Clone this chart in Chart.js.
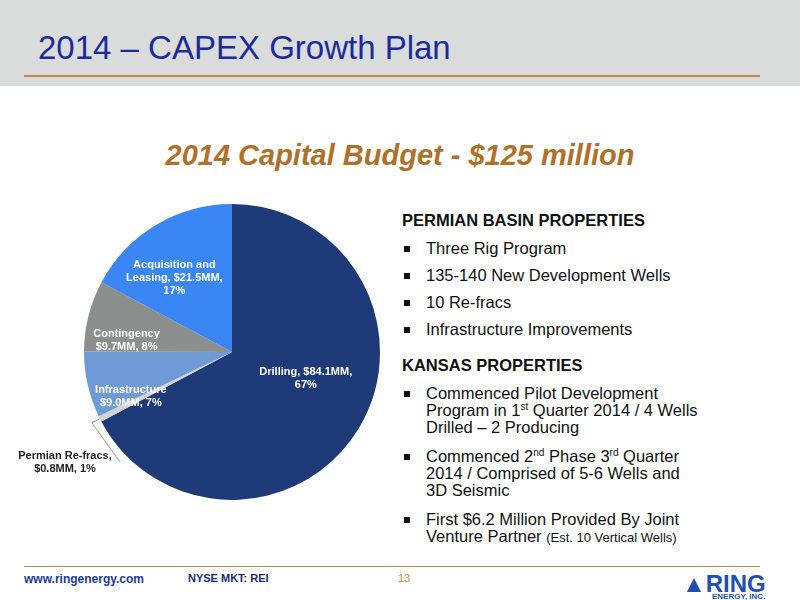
<!DOCTYPE html>
<html><head><meta charset="utf-8">
<script src="https://cdn.jsdelivr.net/npm/chart.js@4"></script>
<style>
body{margin:0;width:800px;height:600px;position:relative;background:#fff;font-family:Arial,"Liberation Sans",sans-serif;overflow:hidden}
#hdr{position:absolute;left:0;top:0;width:800px;height:86px;background:#d9dcdb}
#title{position:absolute;left:38px;top:29px;font-size:33px;color:#1c2a9c}
#hl{position:absolute;left:24px;top:75px;width:736px;height:2px;background:#c08a4a}
#sub{position:absolute;left:0;width:800px;top:139px;text-align:center;font-size:29px;font-weight:bold;font-style:italic;color:#b0702a}
#c{position:absolute;left:0;top:190px}
#txt{position:absolute;left:402px;top:211px;width:312px;color:#111;font-size:16.5px}
h3{margin:0 0 10px 0;font-size:16.5px;font-weight:bold}
ul{margin:0 0 18px 0;padding:0;list-style:none}
li{position:relative;padding-left:24px;margin-bottom:10px;line-height:17px}
ul.k li{margin-bottom:12px}
li:before{content:"";position:absolute;left:2px;top:6px;width:6px;height:6px;background:#111}
#fl{position:absolute;left:24px;top:566px;width:736px;height:1px;background:#c08a4a}
.ft{position:absolute;top:572px;font-size:12px;font-weight:bold;color:#1c3aa0}
#logo{position:absolute;left:682px;top:570px;color:#1f4fb5;font-weight:bold;font-size:24px}
#logo small{display:block;font-size:8px;margin-top:-6px;margin-left:30px}
</style></head><body>
<div id="hdr"></div><div id="title">2014 – CAPEX Growth Plan</div><div id="hl"></div>
<div id="sub">2014 Capital Budget - $125 million</div>
<canvas id="c" width="400" height="330" style="width:400px;height:330px"></canvas>
<div id="txt">
<h3>PERMIAN BASIN PROPERTIES</h3>
<ul><li>Three Rig Program</li><li>135-140 New Development Wells</li><li>10 Re-fracs</li><li>Infrastructure Improvements</li></ul>
<h3>KANSAS PROPERTIES</h3>
<ul class="k"><li>Commenced Pilot Development Program in 1<sup style="font-size:10px;line-height:0">st</sup> Quarter 2014 / 4&nbsp;Wells Drilled – 2 Producing</li>
<li>Commenced 2<sup style="font-size:10px;line-height:0">nd</sup> Phase 3<sup style="font-size:10px;line-height:0">rd</sup> Quarter 2014 / Comprised of 5-6 Wells and 3D&nbsp;Seismic</li>
<li>First $6.2 Million Provided By Joint Venture Partner <span style="font-size:13px">(Est. 10 Vertical Wells)</span></li></ul>
</div>
<div id="fl"></div>
<div class="ft" style="left:24px">www.ringenergy.com</div>
<div class="ft" style="left:188px;color:#1c2a70;font-size:11px">NYSE MKT: REI</div>
<div class="ft" style="left:398px;color:#c08a4a;font-weight:normal;font-size:11px">13</div>
<div id="logo">&#9650;RING<small>ENERGY, INC.</small></div>
<script>
const categories=["Drilling","Permian Re-fracs","Infrastructure","Contingency","Acquisition and Leasing"];
const values=[84.1,0.8,9.0,9.7,21.5];
const colors=["#1f3a78","#d3d4d4","#6f9ad6","#8d8e8e","#3a86f5"];
const labels=[
 ["Drilling, $84.1MM,","67%"],
 ["Permian Re-fracs,","$0.8MM, 1%"],
 ["Infrastructure","$9.0MM, 7%"],
 ["Contingency","$9.7MM, 8%"],
 ["Acquisition and","Leasing, $21.5MM,","17%"]];
const radF=[0.55,1.2,0.68,0.7,0.6];
const offX=[4,0,-3,-5,-12],offY=[-15,0,22,14,2];
const lbl={id:'lbl',afterDatasetsDraw(ch){
 const ctx=ch.ctx;const arcs=ch.getDatasetMeta(0).data;
 ctx.save();ctx.font="bold 11px Arial";ctx.textAlign="center";ctx.textBaseline="middle";
 arcs.forEach((a,i)=>{
  const m=(a.startAngle+a.endAngle)/2;let r=a.outerRadius*radF[i];
  let x=a.x+Math.cos(m)*r+offX[i],y=a.y+Math.sin(m)*r+offY[i];
  if(i===1){
   const ex=a.x+Math.cos(m)*a.outerRadius,ey=a.y+Math.sin(m)*a.outerRadius;
   x=65;y=272;
   ctx.strokeStyle="#999";ctx.lineWidth=1;ctx.beginPath();ctx.moveTo(ex,ey);ctx.lineTo(ex-8,ey+4);ctx.lineTo(x+55,y);ctx.stroke();
   ctx.fillStyle="#222";
  } else ctx.fillStyle="#fff";
  const L=labels[i];L.forEach((t,k)=>ctx.fillText(t,x,y+(k-(L.length-1)/2)*13));
 });ctx.restore();}};
new Chart(document.getElementById('c'),{type:'pie',
 data:{labels:categories,datasets:[{data:values,backgroundColor:colors,borderWidth:0}]},
 options:{responsive:false,animation:false,layout:{padding:{left:64,right:0,top:14,bottom:20}},
  plugins:{legend:{display:false},tooltip:{enabled:false}}},plugins:[lbl]});
</script>
</body></html>
